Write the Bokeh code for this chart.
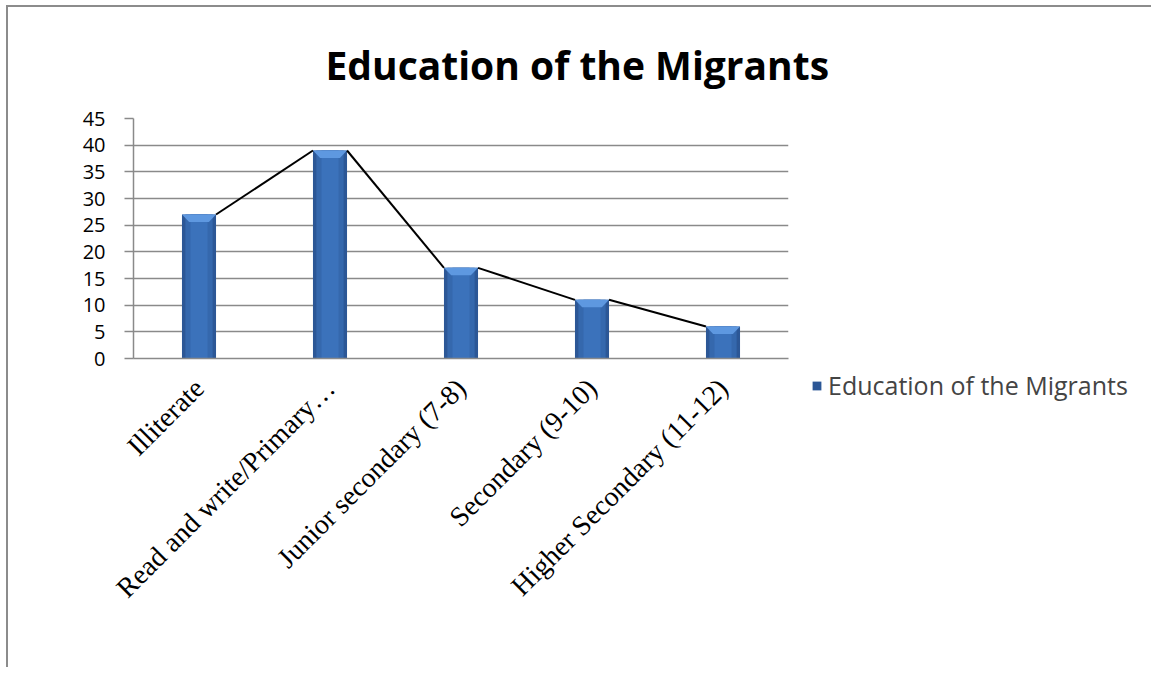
import numpy as np
from bokeh.plotting import figure
from bokeh.models import FixedTicker, Range1d, Legend, LegendItem, ColumnDataSource
from bokeh.embed import file_html
from bokeh.resources import INLINE

# ---- data ----
categories = ["Illiterate", "Read and write/Primary\u2026", "Junior secondary (7-8)",
              "Secondary (9-10)", "Higher Secondary (11-12)"]
values = [27, 39, 17, 11, 6]
y_ticks = [0, 5, 10, 15, 20, 25, 30, 35, 40, 45]
chart_title = "Education of the Migrants"
series_name = "Education of the Migrants"

# ---- geometry / style constants ----
n = len(categories)
centers = np.arange(n) + 0.5
BAR_W = 0.26
LABEL_SHIFT = 0.0
GRID = "#8a8a8a"

p = figure(frame_width=655, frame_height=240, x_range=Range1d(0, n), y_range=Range1d(0, 45),
           output_backend="svg", toolbar_location=None,
           min_border_left=125, min_border_right=5, min_border_top=110, min_border_bottom=309)
p.styles = {"border-left": "2px solid #8c8c8c", "border-top": "2px solid #8c8c8c",
            "margin-left": "6px", "margin-top": "5px"}
p.outline_line_color = None
p.background_fill_color = "white"

# title
p.title.text = chart_title
p.title.align = "left"
p.title.offset = 192
p.title.standoff = 56
p.title.text_font = "Open Sans"
p.title.text_font_style = "bold"
p.title.text_font_size = "39px"
p.title.text_color = "black"

# grid
p.xgrid.visible = False
p.ygrid.ticker = FixedTicker(ticks=y_ticks)
p.ygrid.grid_line_color = GRID
p.ygrid.grid_line_width = 1.5

# y axis
p.yaxis.ticker = FixedTicker(ticks=y_ticks)
p.yaxis.axis_line_color = GRID
p.yaxis.axis_line_width = 1.5
p.yaxis.major_tick_line_color = GRID
p.yaxis.major_tick_line_width = 1.5
p.yaxis.major_tick_out = 9
p.yaxis.major_tick_in = 0
p.yaxis.minor_tick_line_color = None
p.yaxis.major_label_standoff = 19
p.yaxis.major_label_text_font = "Open Sans"
p.yaxis.major_label_text_font_size = "20px"
p.yaxis.major_label_text_color = "black"

# x axis
tick_pos = [float(c + LABEL_SHIFT) for c in centers]
p.xaxis.ticker = FixedTicker(ticks=tick_pos)
p.xaxis.major_label_overrides = {t: lab for t, lab in zip(tick_pos, categories)}
p.xaxis.axis_line_color = GRID
p.xaxis.axis_line_width = 1.5
p.xaxis.major_tick_line_color = None
p.xaxis.major_tick_out = 0
p.xaxis.major_tick_in = 0
p.xaxis.minor_tick_line_color = None
p.xaxis.major_label_orientation = np.pi / 4
p.xaxis.major_label_standoff = 25
p.xaxis.major_label_text_font = "Liberation Serif"
p.xaxis.major_label_text_font_size = "28px"
p.xaxis.major_label_text_color = "black"

# bars (layered to mimic the bevelled gradient)
src = ColumnDataSource(dict(x=list(centers), top=values))
base = p.vbar(x="x", top="top", width=BAR_W, source=src, fill_color="#2c5796", line_color=None)
p.vbar(x="x", top="top", width=BAR_W * 0.8, source=src, fill_color="#3568ad", line_color=None)
p.vbar(x="x", top="top", width=BAR_W * 0.5, source=src, fill_color="#3b72bb", line_color=None)

bev_d = 1.4
bev_b = 0.055
xs = [[c - BAR_W / 2, c + BAR_W / 2, c + BAR_W / 2 - bev_b, c - BAR_W / 2 + bev_b] for c in centers]
ys = [[v, v, v - bev_d, v - bev_d] for v in values]
p.patches(xs=xs, ys=ys, fill_color="#5e98e0", line_color=None)

# series line connecting bar tops
p.segment(x0=list(centers[:-1] + BAR_W / 2), y0=values[:-1],
          x1=list(centers[1:] - BAR_W / 2), y1=values[1:],
          line_color="black", line_width=2)

# legend (right side panel)
legend = Legend(items=[LegendItem(label=series_name, renderers=[base])],
                location=(23, -44), glyph_width=11, glyph_height=11,
                label_text_font="Open Sans", label_text_font_size="25px",
                label_standoff=6, padding=0, margin=0,
                border_line_color=None, background_fill_alpha=0)
p.add_layout(legend, "right")

open("out.html", "w").write(file_html(p, INLINE))
